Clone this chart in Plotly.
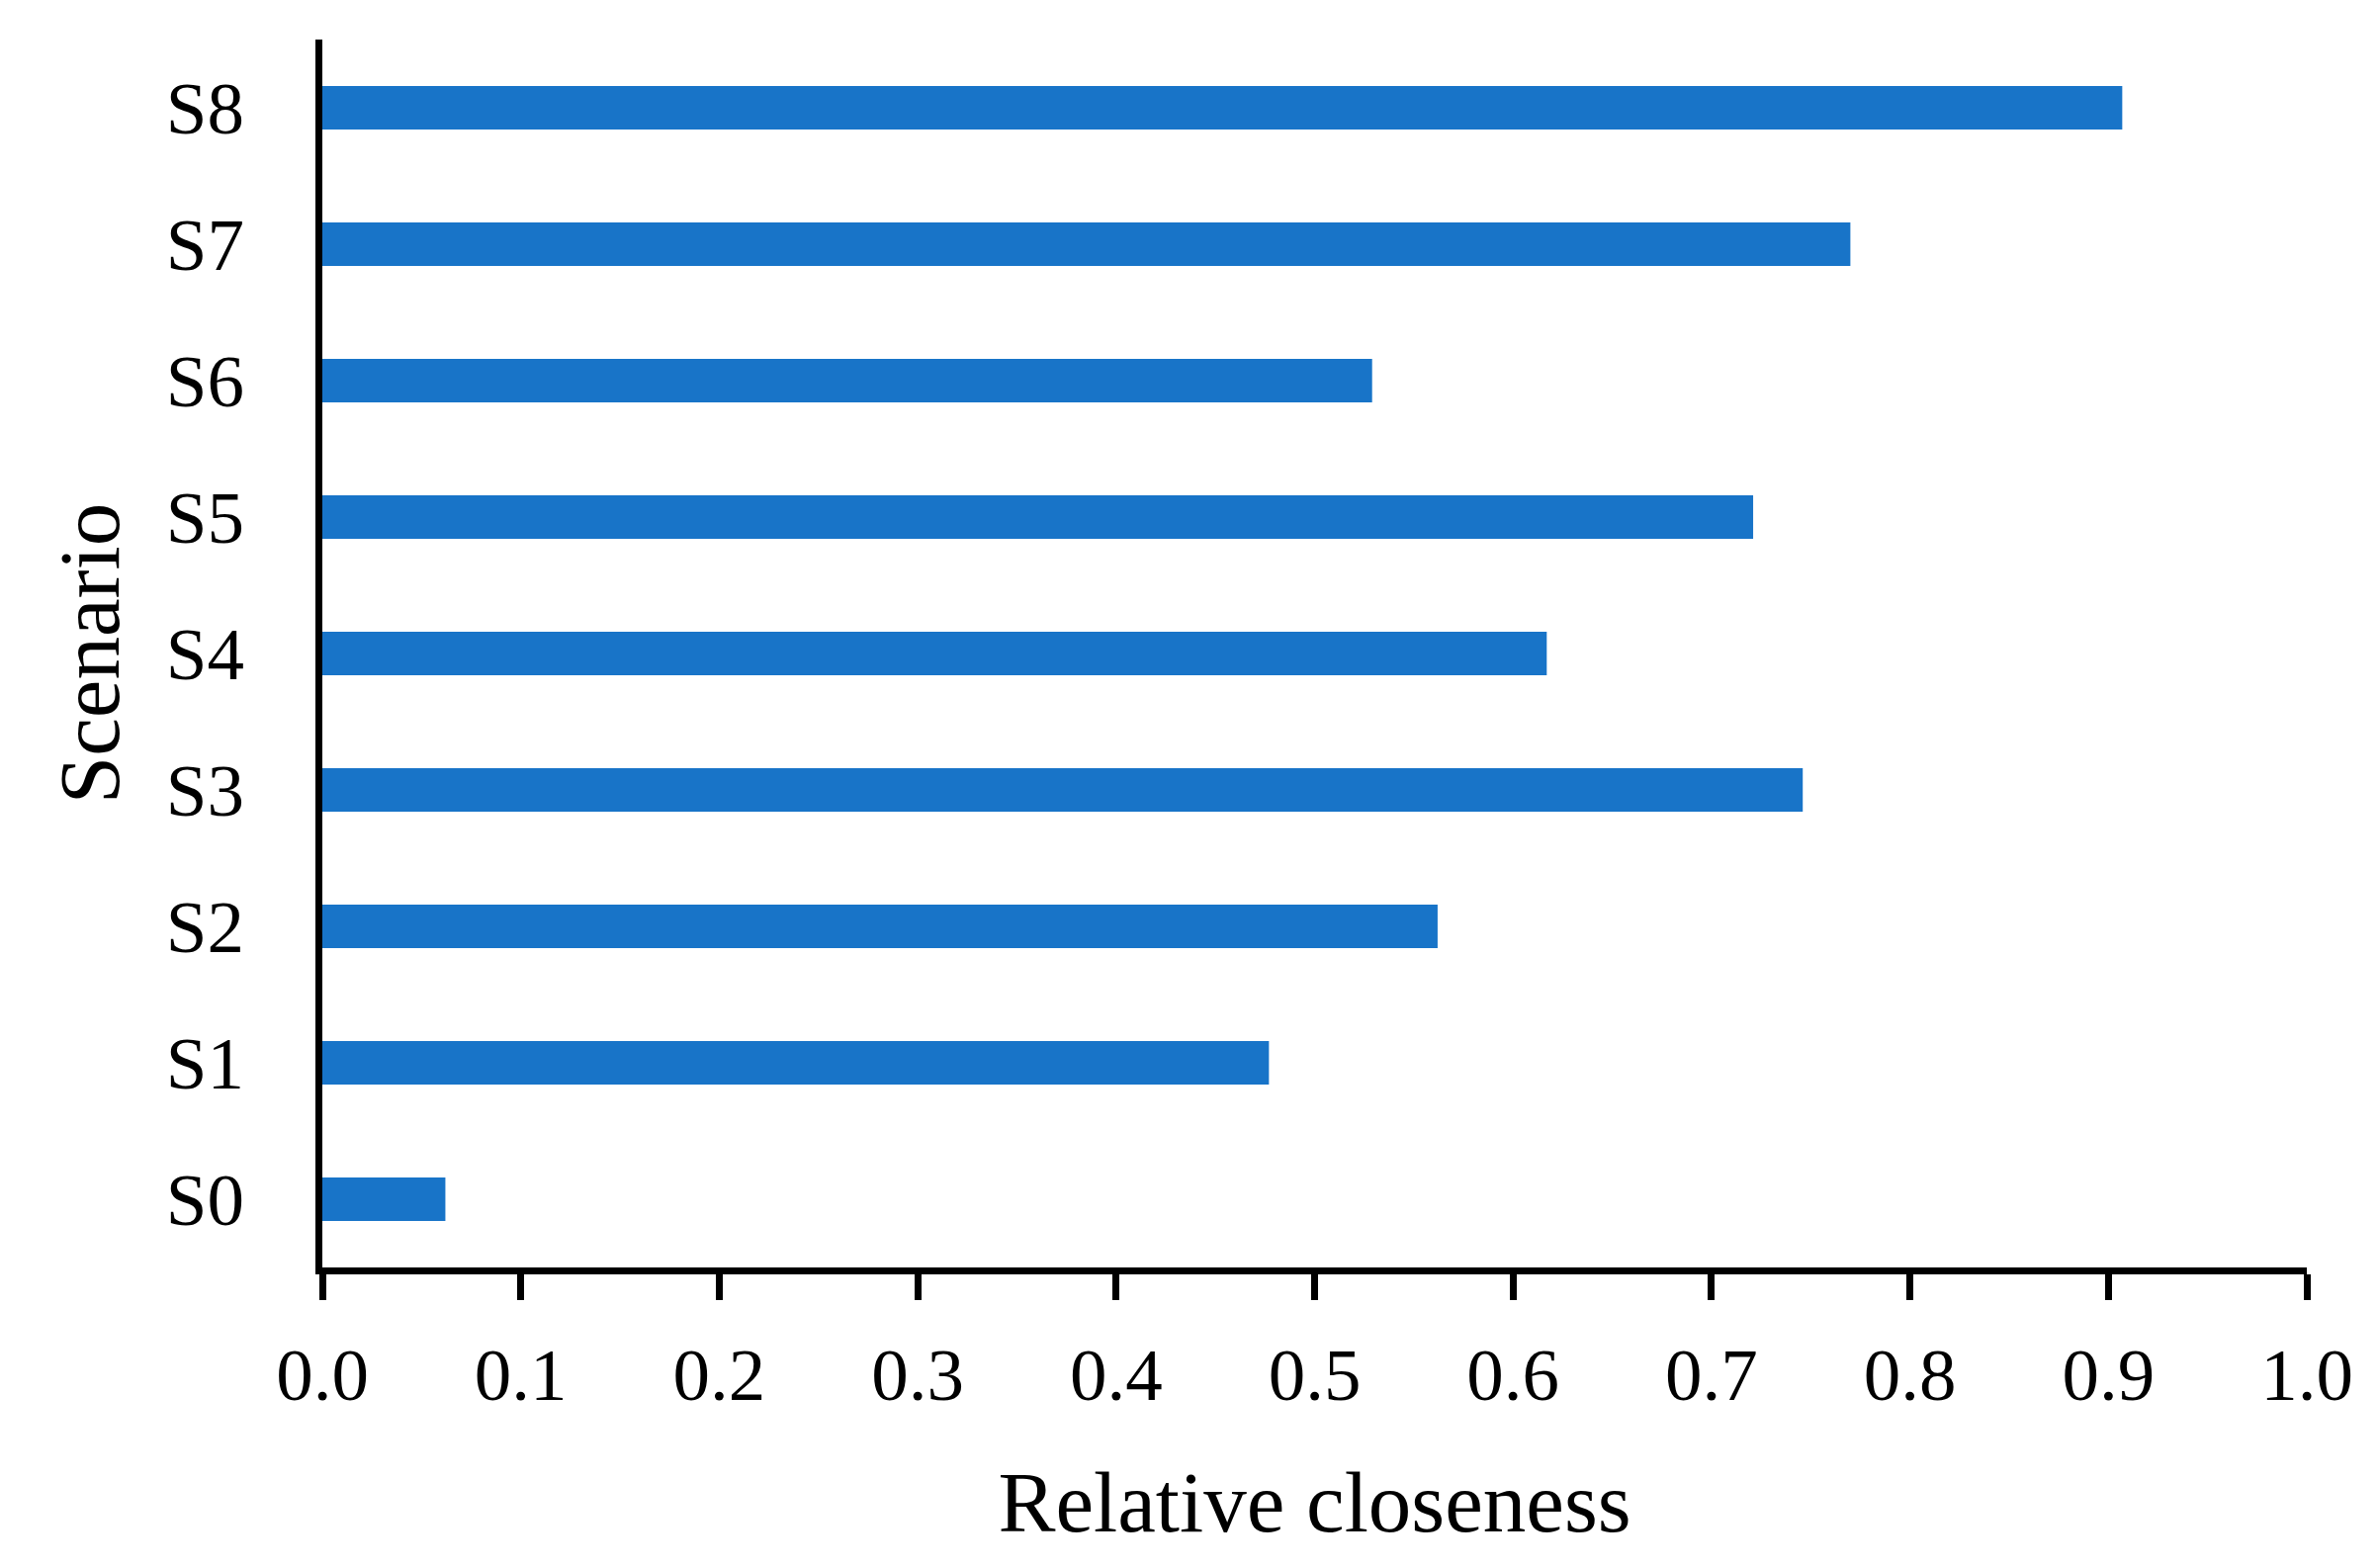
import plotly.graph_objects as go

# ---- data ----
scenarios = ["S0", "S1", "S2", "S3", "S4", "S5", "S6", "S7", "S8"]
closeness = [0.062, 0.477, 0.562, 0.746, 0.617, 0.721, 0.529, 0.770, 0.907]
x_tick_values = [0.0, 0.1, 0.2, 0.3, 0.4, 0.5, 0.6, 0.7, 0.8, 0.9, 1.0]
x_tick_labels = ["0.0", "0.1", "0.2", "0.3", "0.4", "0.5", "0.6", "0.7", "0.8", "0.9", "1.0"]
x_title = "Relative closeness"
y_title = "Scenario"

FONT = "Liberation Serif"
BAR_COLOR = "#1874c8"

fig = go.Figure(
    go.Bar(
        x=closeness,
        y=scenarios,
        orientation="h",
        width=0.32,
        marker=dict(color=BAR_COLOR, line=dict(width=0)),
        hoverinfo="x+y",
    )
)

# page body has an 8px margin, so the figure is slightly smaller and margins offset
fig.update_layout(
    width=2397,
    height=1578,
    margin=dict(l=318, r=72, t=32, b=304, pad=0, autoexpand=False),
    paper_bgcolor="white",
    plot_bgcolor="white",
    showlegend=False,
    font=dict(family=FONT, color="black"),
)

fig.update_xaxes(
    range=[0, 1],
    tickvals=x_tick_values,
    ticktext=x_tick_labels,
    ticks="outside",
    ticklen=26,
    tickwidth=7,
    tickcolor="black",
    showline=True,
    linewidth=7,
    linecolor="black",
    showgrid=False,
    zeroline=False,
    tickfont=dict(family=FONT, size=75, color="black"),
    ticklabelstandoff=11,
    title=dict(text=x_title, font=dict(family=FONT, size=87, color="black"), standoff=60),
    automargin=False,
)

fig.update_yaxes(
    categoryorder="array",
    categoryarray=scenarios,
    range=[-0.5, 8.5],
    ticks="",
    showline=True,
    linewidth=7,
    linecolor="black",
    showgrid=False,
    zeroline=False,
    tickfont=dict(family=FONT, size=75, color="black"),
    ticklabelstandoff=57,
    title=dict(text=y_title, font=dict(family=FONT, size=87, color="black"), standoff=21),
    automargin=False,
)

fig.write_html("out.html")
